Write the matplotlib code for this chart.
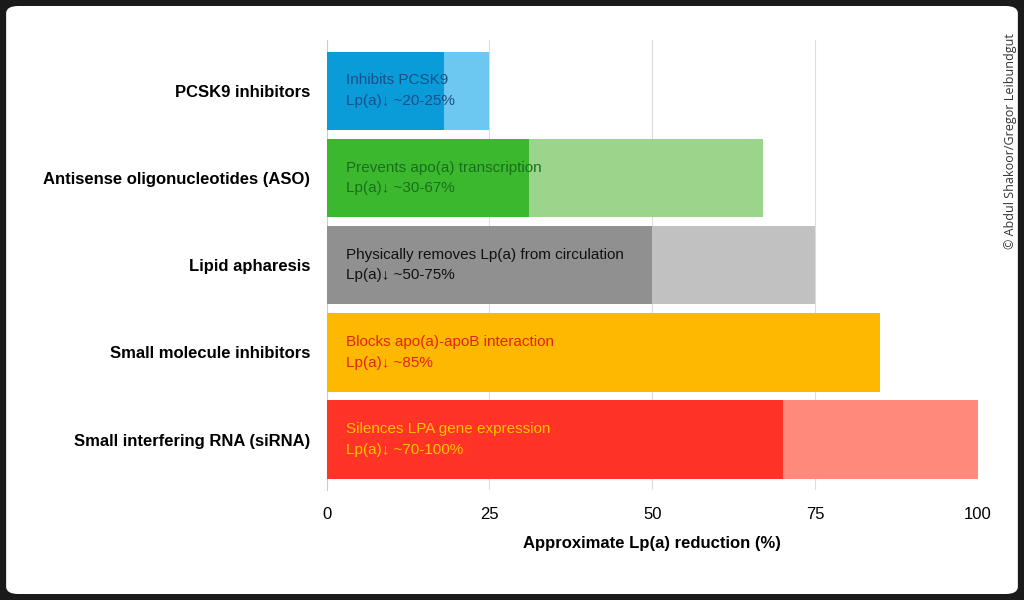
import matplotlib.pyplot as plt
from matplotlib.patches import FancyBboxPatch

categories = ["PCSK9 inhibitors", "Antisense oligonucleotides (ASO)", "Lipid apharesis",
              "Small molecule inhibitors", "Small interfering RNA (siRNA)"]
low = [18, 31, 50, 85, 70]
high = [25, 67, 75, 85, 100]
notes = ["Inhibits PCSK9\nLp(a)\u2193 ~20-25%",
         "Prevents apo(a) transcription\nLp(a)\u2193 ~30-67%",
         "Physically removes Lp(a) from circulation\nLp(a)\u2193 ~50-75%",
         "Blocks apo(a)-apoB interaction\nLp(a)\u2193 ~85%",
         "Silences LPA gene expression\nLp(a)\u2193 ~70-100%"]
dark = ["#0a9bd9", "#3cb82e", "#909090", "#fdb900", "#ff3326"]
light = ["#6cc7f1", "#9bd48b", "#c1c1c1", "#fdb900", "#ff8a7b"]
text_col = ["#1a4f8a", "#17701a", "#111111", "#e3221b", "#ffc400"]

fig = plt.figure(figsize=(10.24, 6.0), dpi=100)
fig.patch.set_facecolor("#1a1a1a")
bg = FancyBboxPatch((0.006, 0.01), 0.988, 0.98, boxstyle="round,pad=0,rounding_size=0.012",
                    transform=fig.transFigure, facecolor="white", edgecolor="none", zorder=-10)
fig.patches.append(bg)
ax = fig.add_axes([0.319, 0.183, 0.636, 0.75])
ax.set_zorder(5)
ax.set_facecolor("none")

y = list(range(len(categories)))
ax.barh(y, high, height=0.9, color=light, zorder=2)
ax.barh(y, low, height=0.9, color=dark, zorder=3)
for i, t in enumerate(notes):
    ax.text(3, i, t, va="center", ha="left", fontsize=11, color=text_col[i], zorder=4,
            linespacing=1.6, family="Liberation Sans")

ax.set_yticks(y)
ax.set_yticklabels(categories, fontsize=12, fontweight="bold", family="Liberation Sans")
ax.set_ylim(4.58, -0.58)
ax.set_xlim(0, 100)
ax.set_xticks([0, 25, 50, 75, 100])
ax.tick_params(axis="x", labelsize=12, length=0, pad=12)
ax.tick_params(axis="y", length=0, pad=12)
for lab in ax.get_xticklabels():
    lab.set_family("Liberation Sans")
ax.grid(axis="x", color="#dddddd", linewidth=0.8, zorder=0)
for s in ["top", "right", "bottom"]:
    ax.spines[s].set_visible(False)
ax.spines["left"].set_color("#cccccc")
ax.set_xlabel("Approximate Lp(a) reduction (%)", fontsize=12, fontweight="bold", labelpad=10,
              family="Liberation Sans")

fig.text(0.987, 0.765, "\u00a9 Abdul Shakoor/Gregor Leibundgut", rotation=90, ha="center", va="center",
         fontsize=9, family="Open Sans", color="#333333")

fig.savefig("out.png", dpi=100, facecolor=fig.get_facecolor())
